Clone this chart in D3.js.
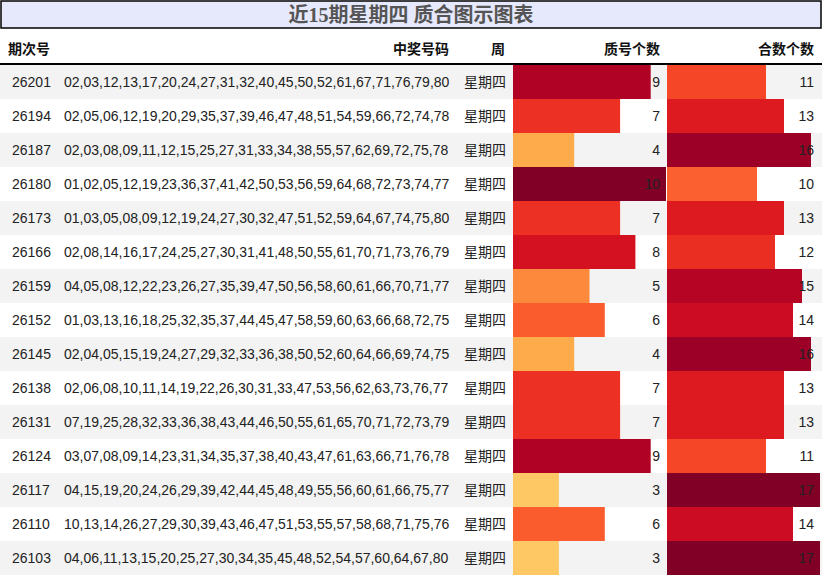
<!DOCTYPE html>
<html><head><meta charset="utf-8">
<script src="https://cdn.jsdelivr.net/npm/d3@7"></script>
<style>body{margin:0;background:#fff;font-family:"Liberation Sans","Noto Sans CJK SC",sans-serif;}</style>
</head><body><svg id="c" width="822" height="576"></svg>
<script>
const periods=["26201","26194","26187","26180","26173","26166","26159","26152","26145","26138","26131","26124","26117","26110","26103"];
const numbers=["02,03,12,13,17,20,24,27,31,32,40,45,50,52,61,67,71,76,79,80","02,05,06,12,19,20,29,35,37,39,46,47,48,51,54,59,66,72,74,78","02,03,08,09,11,12,15,25,27,31,33,34,38,55,57,62,69,72,75,78","01,02,05,12,19,23,36,37,41,42,50,53,56,59,64,68,72,73,74,77","01,03,05,08,09,12,19,24,27,30,32,47,51,52,59,64,67,74,75,80","02,08,14,16,17,24,25,27,30,31,41,48,50,55,61,70,71,73,76,79","04,05,08,12,22,23,26,27,35,39,47,50,56,58,60,61,66,70,71,77","01,03,13,16,18,25,32,35,37,44,45,47,58,59,60,63,66,68,72,75","02,04,05,15,19,24,27,29,32,33,36,38,50,52,60,64,66,69,74,75","02,06,08,10,11,14,19,22,26,30,31,33,47,53,56,62,63,73,76,77","07,19,25,28,32,33,36,38,43,44,46,50,55,61,65,70,71,72,73,79","03,07,08,09,14,23,31,34,35,37,38,40,43,47,61,63,66,71,76,78","04,15,19,20,24,26,29,39,42,44,45,48,49,55,56,60,61,66,75,77","10,13,14,26,27,29,30,39,43,46,47,51,53,55,57,58,68,71,75,76","04,06,11,13,15,20,25,27,30,34,35,45,48,52,54,57,60,64,67,80"];
const weekday="星期四";
const primeCounts=[9,7,4,10,7,8,5,6,4,7,7,9,3,6,3];
const compositeCounts=[11,13,16,10,13,12,15,14,16,13,13,11,17,14,17];
const headers=["期次号","中奖号码","周","质号个数","合数个数"];
const title="近15期星期四 质合图示图表";

const svg=d3.select("#c");
svg.append("rect").attr("x",1).attr("y",1).attr("width",820).attr("height",27).attr("fill","#e6e8fb").attr("stroke","#000").attr("stroke-width",1.5);
svg.append("text").attr("x",411).attr("y",22).attr("text-anchor","middle").attr("font-size",20).attr("font-weight","bold").attr("fill","#555").attr("font-family","'Liberation Serif','Noto Sans CJK SC',serif").text(title);

const hy=54;
const hdr=[[8,"start"],[449,"end"],[498,"middle"],[660,"end"],[814,"end"]];
headers.forEach((h,i)=>svg.append("text").attr("x",hdr[i][0]).attr("y",hy).attr("text-anchor",hdr[i][1]).attr("font-size",14).attr("font-weight","bold").attr("font-family","'Noto Sans CJK SC',sans-serif").attr("fill","#111").text(h));
svg.append("line").attr("x1",0).attr("x2",822).attr("y1",64).attr("y2",64).attr("stroke","#000").attr("stroke-width",2);

const y=d3.scaleBand().domain(periods).range([65,575]);
const xp=d3.scaleLinear().domain([0,d3.max(primeCounts)]).range([513,666]);
const xc=d3.scaleLinear().domain([0,d3.max(compositeCounts)]).range([667,820]);
const cp=d3.scaleSequential(d3.interpolateYlOrRd).domain([0,d3.max(primeCounts)]);
const cc=d3.scaleSequential(d3.interpolateYlOrRd).domain([0,d3.max(compositeCounts)]);

const g=svg.selectAll("g.r").data(periods).join("g");
g.append("rect").attr("x",0).attr("width",822).attr("y",d=>y(d)).attr("height",y.bandwidth()).attr("fill",(d,i)=>i%2==0?"#f3f3f3":"#fff");
g.append("rect").attr("x",xp(0)).attr("y",d=>y(d)).attr("height",y.bandwidth()).attr("width",(d,i)=>xp(primeCounts[i])-xp(0)).attr("fill",(d,i)=>cp(primeCounts[i]));
g.append("rect").attr("x",xc(0)).attr("y",d=>y(d)).attr("height",y.bandwidth()).attr("width",(d,i)=>xc(compositeCounts[i])-xc(0)).attr("fill",(d,i)=>cc(compositeCounts[i]));
const ty=d=>y(d)+y.bandwidth()/2+5;
const T=(sel,x,anchor,f,fam)=>sel.append("text").attr("x",x).attr("y",ty).attr("text-anchor",anchor).attr("font-size",14).attr("fill","#222").attr("font-family",fam||"'Liberation Sans',sans-serif").text(f);
T(g,12,"start",d=>d);
T(g,64,"start",(d,i)=>numbers[i]);
T(g,485,"middle",()=>weekday,"'Noto Sans CJK SC',sans-serif");
T(g,660,"end",(d,i)=>primeCounts[i]);
T(g,814,"end",(d,i)=>compositeCounts[i]);
</script></body></html>
